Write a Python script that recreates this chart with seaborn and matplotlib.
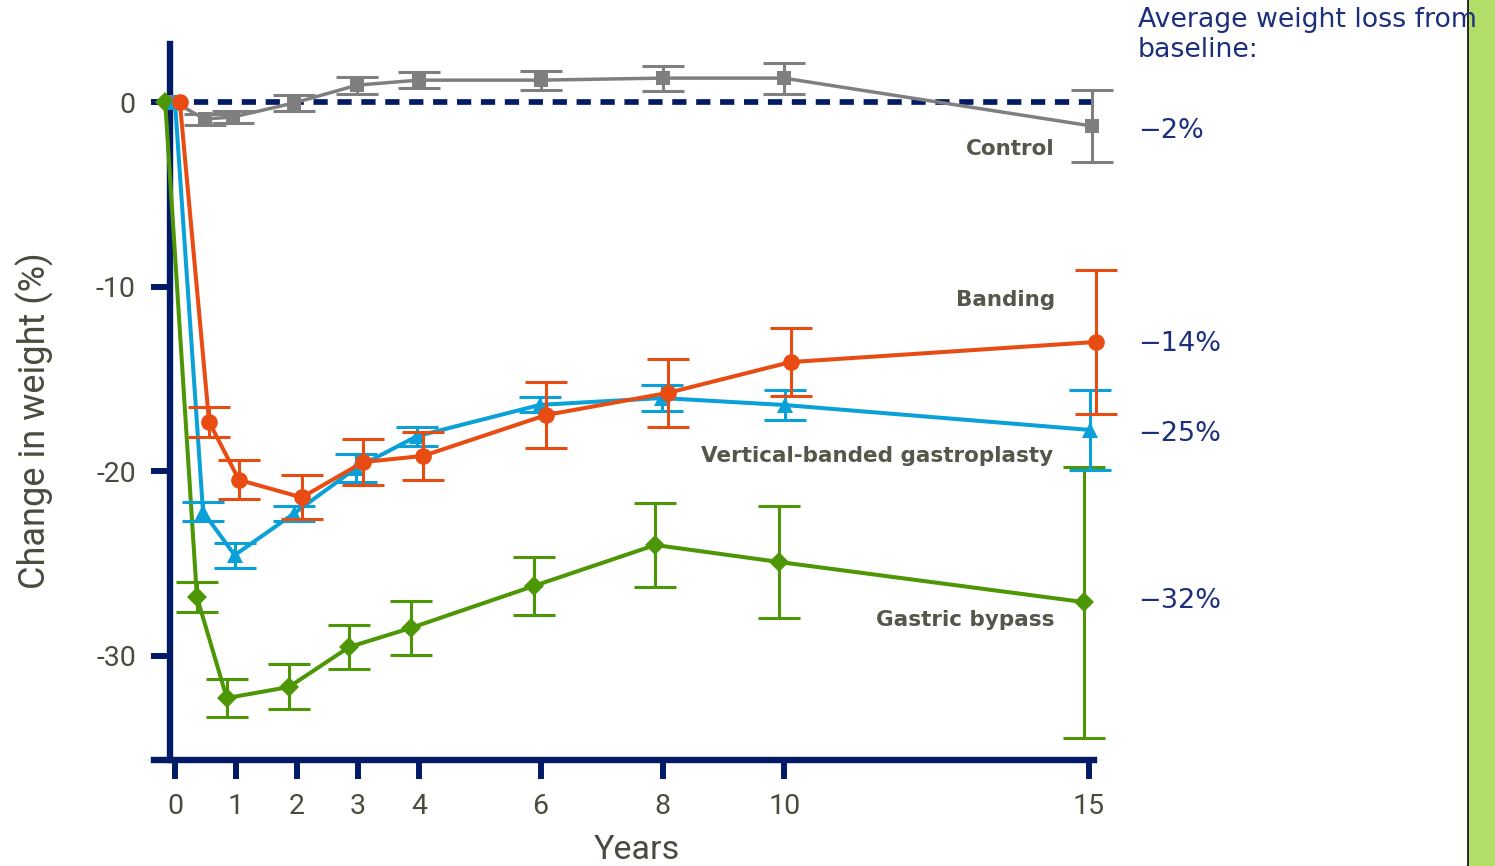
import matplotlib
matplotlib.use("Agg")
import matplotlib.pyplot as plt
import seaborn as sns
import pandas as pd
from matplotlib.patches import Rectangle

# ---------------- data ----------------
years_ticks = [0, 1, 2, 3, 4, 6, 8, 10, 15]
y_ticks = [0, -10, -20, -30]

control_x = [0.0, 0.49, 0.95, 1.95, 2.99, 4.0, 6.0, 8.0, 9.99, 15.05]
control_y = [0.0, -0.9, -0.79, -0.03, 0.94, 1.21, 1.21, 1.32, 1.32, -1.28]
control_err = [0.0, 0.3, 0.3, 0.46, 0.46, 0.43, 0.52, 0.68, 0.84, 1.95]

banding_x = [0.08, 0.56, 1.05, 2.08, 3.09, 4.07, 6.09, 8.09, 10.1, 15.11]
banding_y = [0.0, -17.33, -20.47, -21.42, -19.5, -19.17, -16.95, -15.75, -14.08, -12.99]
banding_err = [0.0, 0.81, 1.06, 1.19, 1.27, 1.3, 1.79, 1.84, 1.84, 3.9]

vbg_x = [0.0, 0.46, 0.98, 1.95, 2.97, 3.97, 5.99, 7.99, 10.01, 15.01]
vbg_y = [0.0, -22.2, -24.55, -22.3, -19.83, -18.1, -16.4, -16.03, -16.41, -17.76]
vbg_err = [0.0, 0.52, 0.68, 0.41, 0.76, 0.52, 0.41, 0.7, 0.81, 2.17]

bypass_x = [-0.16, 0.36, 0.85, 1.87, 2.86, 3.87, 5.89, 7.88, 9.91, 14.92]
bypass_y = [0.0, -26.82, -32.3, -31.7, -29.53, -28.5, -26.22, -24.0, -24.92, -27.1]
bypass_err = [0.0, 0.81, 1.03, 1.22, 1.17, 1.46, 1.55, 2.28, 3.04, 7.35]

series_names = ["Control", "Gastric bypass", "Vertical-banded gastroplasty", "Banding"]
avg_loss_labels = ["\u22122%", "\u221214%", "\u221225%", "\u221232%"]

# ---------------- style ----------------
sns.set_style("white")
plt.rcParams["font.family"] = ["DejaVu Sans"]

NAVY = "#031a66"
TEXT_NAVY = "#1c2f7c"
TICK_TXT = "#4a4a3e"
LABEL_TXT = "#56564b"
COLORS = {
    "Control": "#7f7f7f",
    "Banding": "#e84c12",
    "Vertical-banded gastroplasty": "#0aa0d8",
    "Gastric bypass": "#4d9606",
}
MARKERS = {"Control": "s", "Banding": "o", "Vertical-banded gastroplasty": "^", "Gastric bypass": "D"}
MSIZE = {"Control": 9.4, "Banding": 12.0, "Vertical-banded gastroplasty": 11.5, "Gastric bypass": 10.0}
LW = {"Control": 2.5, "Banding": 2.9, "Vertical-banded gastroplasty": 2.9, "Gastric bypass": 2.9}

data = {
    "Control": (control_x, control_y, control_err),
    "Banding": (banding_x, banding_y, banding_err),
    "Vertical-banded gastroplasty": (vbg_x, vbg_y, vbg_err),
    "Gastric bypass": (bypass_x, bypass_y, bypass_err),
}

W, H = 1495, 866
fig = plt.figure(figsize=(W / 100, H / 100), dpi=100)
fig.patch.set_facecolor("white")
ax = fig.add_axes([170 / W, (H - 760) / H, (1094 - 170) / W, (760 - 44) / H])
ax.set_facecolor("white")

# zero reference line
ax.plot([-0.082, 15.05], [0, 0], color=NAVY, lw=4.1, linestyle=(0, (2.5, 1.7)),
        zorder=2.6, clip_on=False, solid_capstyle="butt", dash_capstyle="butt")

z = 3
for name in series_names:
    xs, ys, es = data[name]
    df = pd.DataFrame({"Years": xs, "Change": ys})
    n_before = len(ax.lines)
    sns.lineplot(data=df, x="Years", y="Change", ax=ax, color=COLORS[name],
                 marker=MARKERS[name], markersize=MSIZE[name], markeredgewidth=0,
                 linewidth=LW[name], sort=False, estimator=None, zorder=z + 1)
    for ln in ax.lines[n_before:]:
        ln.set_clip_on(False)
    ex = [x for x, e in zip(xs, es) if e > 0]
    ey = [y for y, e in zip(ys, es) if e > 0]
    ee = [e for e in es if e > 0]
    eb = ax.errorbar(ex, ey, yerr=ee, fmt="none", ecolor=COLORS[name], elinewidth=2.2,
                     capsize=15, capthick=2.2, zorder=z)
    for art in eb.get_children():
        art.set_clip_on(False)
    z += 2

# axes limits / spines
ax.set_xlim(-0.082, 15.08)
ax.set_ylim(-35.66, 3.17)
for s in ["top", "right"]:
    ax.spines[s].set_visible(False)
for s in ["left", "bottom"]:
    ax.spines[s].set_color(NAVY)
    ax.spines[s].set_linewidth(4.6)
    ax.spines[s].set_zorder(2.5)
ax.spines["bottom"].set_bounds(-0.35, 15.08)

ax.set_xticks(years_ticks)
ax.set_xticklabels([str(t) for t in years_ticks])
ax.set_yticks(y_ticks)
ax.set_yticklabels([str(t) for t in y_ticks])
ax.tick_params(axis="both", which="major", direction="out", color=NAVY, width=4.3,
               length=13.5, labelcolor=TICK_TXT, labelsize=20.5, bottom=True, left=True)
ax.tick_params(axis="x", pad=10)
ax.tick_params(axis="y", pad=11)
for lab in ax.get_xticklabels() + ax.get_yticklabels():
    lab.set_family("Roboto")

ax.set_xlabel("Years", fontsize=24.5, color=TICK_TXT, family="Roboto")
ax.xaxis.set_label_coords((637 - 170) / 924, (760 - 850) / 716)
ax.xaxis.label.set_va("center")
ax.set_ylabel("Change in weight (%)", fontsize=26, color=TICK_TXT, family="Roboto")
ax.yaxis.set_label_coords((35 - 170) / 924, (760 - 421) / 716)
ax.yaxis.label.set_va("center")

# series labels
label_pos = {
    "Control": (14.44, -2.53),
    "Banding": (14.44, -10.7),
    "Vertical-banded gastroplasty": (14.41, -19.17),
    "Gastric bypass": (14.44, -28.08),
}
for name, (lx, ly) in label_pos.items():
    ax.text(lx, ly, name, ha="right", va="center", fontsize=15.5, color=LABEL_TXT,
            family="DejaVu Sans", fontweight="bold", zorder=20)

# right-hand annotations
fig.text(1138 / W, 1 - 20 / H, "Average weight loss from", ha="left", va="center",
         fontsize=19.3, color=TEXT_NAVY, family="DejaVu Sans", zorder=5)
fig.text(1138 / W, 1 - 50 / H, "baseline:", ha="left", va="center",
         fontsize=19.3, color=TEXT_NAVY, family="DejaVu Sans")
for txt, py in zip(avg_loss_labels, [131, 344, 434, 601]):
    fig.text(1138 / W, 1 - py / H, txt, ha="left", va="center",
             fontsize=19.5, color=TEXT_NAVY, family="DejaVu Sans")

# green decorative strip on the right edge
fig.patches.append(Rectangle((1469 / W, 0), 26 / W, 1, transform=fig.transFigure,
                             facecolor="#b2dd68", edgecolor="none", zorder=0))
fig.patches.append(Rectangle((1467 / W, 0), 2 / W, 1, transform=fig.transFigure,
                             facecolor="#2b2b2b", edgecolor="none", zorder=0))

fig.savefig("out.png", dpi=100, facecolor="white")
